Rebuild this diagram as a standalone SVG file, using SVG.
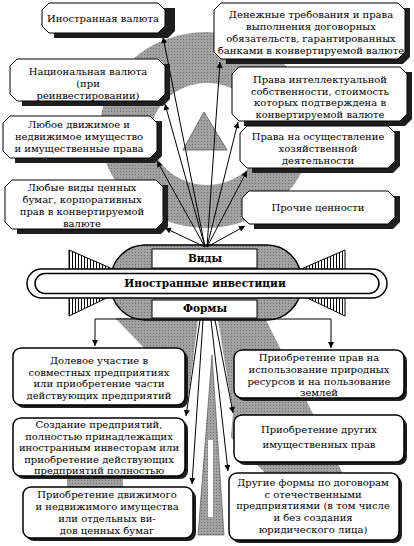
<svg xmlns="http://www.w3.org/2000/svg" width="414" height="546" viewBox="0 0 414 546">
<defs>
<pattern id="dots" width="3" height="3" patternUnits="userSpaceOnUse">
<rect width="3" height="3" fill="#a2a2a2"/>
<rect width="1" height="1" fill="#707070"/>
</pattern>
<pattern id="hatch" width="3" height="3" patternUnits="userSpaceOnUse">
<rect width="3" height="3" fill="#fff"/>
<rect x="0" width="1" height="3" fill="#000"/>
</pattern>
<marker id="ah" viewBox="0 0 10 10" refX="10" refY="5" markerWidth="8" markerHeight="6" markerUnits="userSpaceOnUse" orient="auto">
<path d="M0,0 L10,5 L0,10 z" fill="#000"/>
</marker>
<style>
.g{fill:url(#dots)}
.bx{fill:#fff;stroke:#000;stroke-width:1}
.rb{fill:#fff;stroke:#000;stroke-width:1.5}
.sh{fill:#1e1e1e}
.t{font-family:"DejaVu Serif","Liberation Serif",serif;font-size:10px;fill:#000;text-anchor:middle}
.b{font-family:"DejaVu Serif","Liberation Serif",serif;font-size:10.5px;font-weight:bold;fill:#000;text-anchor:middle}
.ln{stroke:#000;stroke-width:1;fill:none}
</style>
</defs>
<rect width="414" height="546" fill="#fff"/>

<g id="background">
<ellipse class="g" cx="206" cy="130" rx="106" ry="98"/>
<ellipse cx="207" cy="134" rx="56" ry="51" fill="#fff"/>
<polygon class="g" points="204,112 183,150 227,150" stroke="#555" stroke-width="0.8"/>
<polygon class="g" points="115,318 265,318 345,478 270,478"/>
<rect class="g" x="67" y="478" width="56" height="9"/>
<polygon fill="#fff" points="198,320 186,416 192,484 228,471 233,413 218,320"/>
<polygon class="g" points="212,355 198,535 224,535" stroke="#444" stroke-width="0.6"/>
<rect x="208" y="440" width="5" height="77" fill="#fff"/>
</g>

<g id="hub">
<polygon points="69,250 115,270 69,290" fill="url(#hatch)" stroke="#000"/>
<polygon points="69,316 115,294 69,280" fill="url(#hatch)" stroke="#000"/>
<polygon points="345,250 299,270 345,290" fill="url(#hatch)" stroke="#000"/>
<polygon points="345,316 299,294 345,280" fill="url(#hatch)" stroke="#000"/>
<rect class="g" x="111" y="245" width="190" height="75" rx="34" stroke="#000" stroke-width="1.5"/>
<rect x="152" y="249" width="105" height="19" fill="#fff" stroke="#000"/>
<text class="b" x="205" y="262">Виды</text>
<rect x="152" y="300" width="105" height="18" fill="#fff" stroke="#000"/>
<text class="b" x="205" y="312">Формы</text>
<rect x="27" y="269" width="360" height="29" rx="14.5" fill="#fff" stroke="#000" stroke-width="1.5"/>
<rect x="35" y="273.5" width="344" height="20" rx="10" fill="#fff" stroke="#000" stroke-width="1.5"/>
<text class="b" x="205" y="287">Иностранные инвестиции</text>
</g>

<g id="connectors">
<line class="ln" x1="205" y1="247" x2="163" y2="37" marker-end="url(#ah)"/>
<line class="ln" x1="205" y1="247" x2="165" y2="104" marker-end="url(#ah)"/>
<line class="ln" x1="205" y1="247" x2="157" y2="161" marker-end="url(#ah)"/>
<line class="ln" x1="205" y1="247" x2="165" y2="228" marker-end="url(#ah)"/>
<line class="ln" x1="207" y1="247" x2="220" y2="62" marker-end="url(#ah)"/>
<line class="ln" x1="207" y1="247" x2="238" y2="122" marker-end="url(#ah)"/>
<line class="ln" x1="207" y1="247" x2="247" y2="171" marker-end="url(#ah)"/>
<line class="ln" x1="207" y1="247" x2="245" y2="226" marker-end="url(#ah)"/>
<path class="ln" d="M205,319 H95 V346" marker-end="url(#ah)"/>
<path class="ln" d="M205,319 H331 V348" marker-end="url(#ah)"/>
<line class="ln" x1="200" y1="320" x2="186" y2="416" marker-end="url(#ah)"/>
<line class="ln" x1="203" y1="320" x2="192" y2="484" marker-end="url(#ah)"/>
<line class="ln" x1="215" y1="320" x2="233" y2="413" marker-end="url(#ah)"/>
<line class="ln" x1="211" y1="320" x2="228" y2="471" marker-end="url(#ah)"/>
</g>

<g id="t1">
<polygon class="sh" points="54,8 175,8 175,31 168,38 54,38"/>
<polygon class="bx" points="49,3 158,3 165,10 165,26 158,33 49,33 42,26 42,10"/>
<text class="t" x="103" y="21.5">Иностранная валюта</text>
</g>
<g id="t2">
<polygon class="sh" points="22,64 170,64 170,99 163,106 22,106"/>
<polygon class="bx" points="17,59 158,59 165,66 165,94 158,101 17,101 10,94 10,66"/>
<text class="t" x="88" y="75">Национальная валюта</text>
<text class="t" x="88" y="87">(при</text>
<text class="t" x="88" y="99">реинвестировании)</text>
</g>
<g id="t3">
<polygon class="sh" points="15,121 162,121 162,156 155,163 15,163"/>
<polygon class="bx" points="10,116 150,116 157,123 157,151 150,158 10,158 3,151 3,123"/>
<text class="t" x="79" y="128">Любое движимое и</text>
<text class="t" x="79" y="140">недвижимое имущество</text>
<text class="t" x="79" y="152">и имущественные права</text>
</g>
<g id="t4">
<polygon class="sh" points="17,185 168,185 168,227 161,234 17,234"/>
<polygon class="bx" points="12,180 156,180 163,187 163,222 156,229 12,229 5,222 5,187"/>
<text class="t" x="82" y="191">Любые виды ценных</text>
<text class="t" x="82" y="203">бумаг, корпоративных</text>
<text class="t" x="82" y="215">прав в конвертируемой</text>
<text class="t" x="82" y="227">валюте</text>
</g>
<g id="t5">
<polygon class="sh" points="226,8 410,8 410,57 403,64 226,64"/>
<polygon class="bx" points="221,3 398,3 405,10 405,52 398,59 221,59 214,52 214,10"/>
<text class="t" x="311" y="18">Денежные требования и права</text>
<text class="t" x="311" y="30">выполнения договорных</text>
<text class="t" x="311" y="42">обязательств, гарантированных</text>
<text class="t" x="311" y="54">банками в конвертируемой валюте</text>
</g>
<g id="t6">
<polygon class="sh" points="244,72 412,72 412,119 405,126 244,126"/>
<polygon class="bx" points="239,67 400,67 407,74 407,114 400,121 239,121 232,114 232,74"/>
<text class="t" x="320" y="83">Права интеллектуальной</text>
<text class="t" x="320" y="94.7">собственности, стоимость</text>
<text class="t" x="320" y="106.4">которых подтверждена в</text>
<text class="t" x="320" y="118">конвертируемой валюте</text>
</g>
<g id="t7">
<polygon class="sh" points="252,131 400,131 400,166 393,173 252,173"/>
<polygon class="bx" points="247,126 388,126 395,133 395,161 388,168 247,168 240,161 240,133"/>
<text class="t" x="318" y="140">Права на осуществление</text>
<text class="t" x="318" y="152">хозяйственной</text>
<text class="t" x="318" y="164">деятельности</text>
</g>
<g id="t8">
<polygon class="sh" points="254,196 400,196 400,222 393,229 254,229"/>
<polygon class="bx" points="249,191 388,191 395,198 395,217 388,224 249,224 242,217 242,198"/>
<text class="t" x="318" y="211">Прочие ценности</text>
</g>

<g id="b1">
<rect class="sh" x="16" y="351" width="172" height="57" rx="8"/>
<rect class="rb" x="13" y="348" width="172" height="57" rx="8"/>
<text class="t" x="99" y="364">Долевое участие в</text>
<text class="t" x="99" y="375.6">совместных предприятиях</text>
<text class="t" x="99" y="387.2">или приобретение части</text>
<text class="t" x="99" y="398.8">действующих предприятий</text>
</g>
<g id="b2">
<rect class="sh" x="16" y="421" width="172" height="58" rx="8"/>
<rect class="rb" x="13" y="418" width="172" height="58" rx="8"/>
<text class="t" x="99" y="428">Создание предприятий,</text>
<text class="t" x="99" y="439.6">полностью принадлежащих</text>
<text class="t" x="99" y="451.2">иностранным инвесторам или</text>
<text class="t" x="99" y="462.8">приобретение действующих</text>
<text class="t" x="99" y="474.4">предприятий полностью</text>
</g>
<g id="b3">
<rect class="sh" x="26" y="490" width="170" height="51" rx="8"/>
<rect class="rb" x="23" y="487" width="170" height="51" rx="8"/>
<text class="t" x="107" y="498">Приобретение движимого</text>
<text class="t" x="107" y="510">и недвижимого имущества</text>
<text class="t" x="107" y="522">или отдельных ви-</text>
<text class="t" x="107" y="534">дов ценных бумаг</text>
</g>
<g id="b4">
<rect class="sh" x="237" y="353" width="170" height="48" rx="8"/>
<rect class="rb" x="234" y="350" width="170" height="48" rx="8"/>
<text class="t" x="319" y="361">Приобретение прав на</text>
<text class="t" x="319" y="372.8">использование природных</text>
<text class="t" x="319" y="384.6">ресурсов и на пользование</text>
<text class="t" x="319" y="396.4">землей</text>
</g>
<g id="b5">
<rect class="sh" x="237" y="418" width="170" height="47" rx="8"/>
<rect class="rb" x="234" y="415" width="170" height="47" rx="8"/>
<text class="t" x="319" y="433">Приобретение других</text>
<text class="t" x="319" y="448">имущественных прав</text>
</g>
<g id="b6">
<rect class="sh" x="232" y="476" width="170" height="67" rx="8"/>
<rect class="rb" x="229" y="473" width="170" height="67" rx="8"/>
<text class="t" x="313" y="486">Другие формы по договорам</text>
<text class="t" x="313" y="497.7">с отечественными</text>
<text class="t" x="313" y="509.4">предприятиями (в том числе</text>
<text class="t" x="313" y="521.1">и без создания</text>
<text class="t" x="313" y="532.8">юридического лица)</text>
</g>
</svg>
